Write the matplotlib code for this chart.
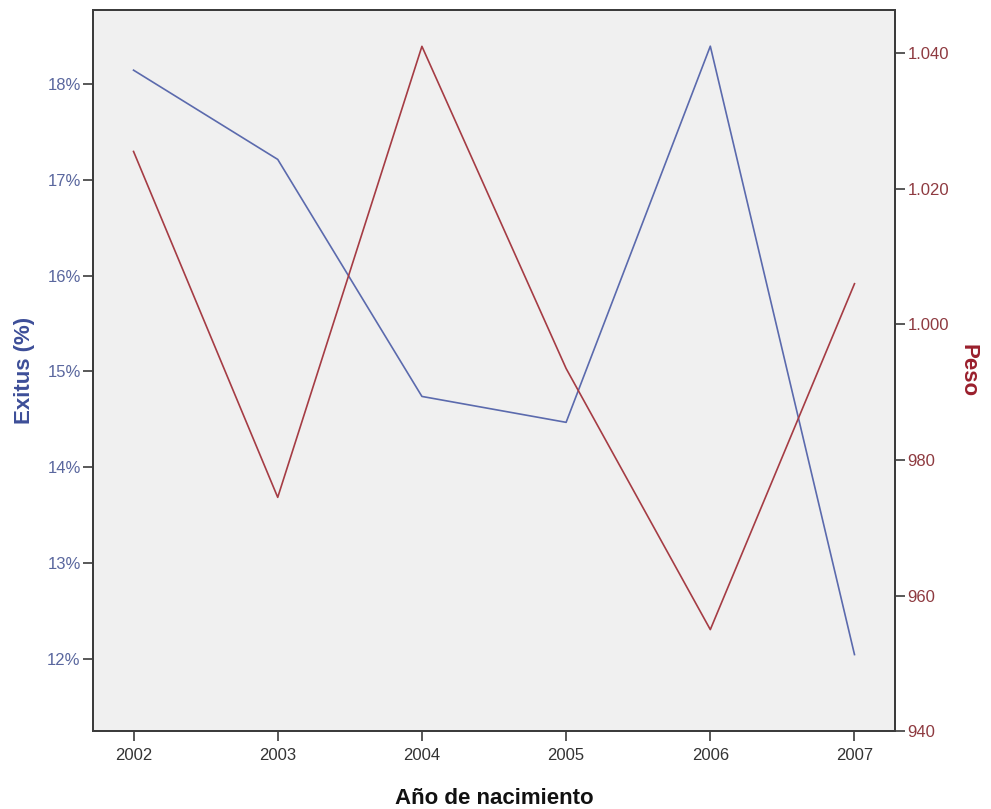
import numpy as np
import matplotlib
matplotlib.use('Agg')
import matplotlib.pyplot as plt
from matplotlib.ticker import FuncFormatter

plt.rcParams['font.family'] = ['Liberation Sans', 'DejaVu Sans']

# datos por año de nacimiento
anios = [2002, 2003, 2004, 2005, 2006, 2007]
exitus = [18.14, 17.21, 14.74, 14.47, 18.39, 12.05]   # %
peso = [1025.5, 974.5, 1041.0, 993.5, 955.0, 1006.0]  # gramos

azul = '#5b6aad'
rojo = '#a53c44'

fig = plt.figure(figsize=(9.91, 8.09), dpi=100)
ax = fig.add_axes([0.094, 0.096, 0.809, 0.892])
ax.set_facecolor('#f0f0f0')
ax2 = ax.twinx()
ax2.patch.set_visible(False)

ax.plot(anios, exitus, color=azul, lw=1.2)
ax2.plot(anios, peso, color=rojo, lw=1.2)

ax.set_xlim(2001.72, 2007.28)
ax.set_ylim(11.25, 18.77)
ax2.set_ylim(940, 1046.4)

ax.set_xticks(anios)
ax.set_yticks([12, 13, 14, 15, 16, 17, 18])
ax2.set_yticks([940, 960, 980, 1000, 1020, 1040])
ax.yaxis.set_major_formatter(FuncFormatter(lambda v, p: f'{v:.0f}%'))
ax2.yaxis.set_major_formatter(FuncFormatter(lambda v, p: f'{v:,.0f}'.replace(',', '.')))

for a in (ax, ax2):
    for s in a.spines.values():
        s.set_color('#3c3c3c')
        s.set_linewidth(1.4)

ax.tick_params(axis='x', length=7, width=1.2, color='#3c3c3c', labelsize=12,
               labelcolor='#333333', pad=5)
ax.tick_params(axis='y', length=7, width=1.2, color='#3c3c3c', labelsize=12,
               labelcolor='#5a679e', pad=2)
ax2.tick_params(axis='y', length=7, width=1.2, color='#3c3c3c', labelsize=12,
                labelcolor='#8e3a40', pad=2)

ax.set_xlabel('Año de nacimiento', fontsize=16, fontweight='bold', color='#111111', labelpad=18)
ax.set_ylabel('Exitus (%)', fontsize=16, fontweight='bold', color='#3d4e98', labelpad=9)
ax2.set_ylabel('Peso', fontsize=16, fontweight='bold', color='#9a1f2c', rotation=270, labelpad=21)

fig.savefig('out.png', dpi=100, facecolor='white')
